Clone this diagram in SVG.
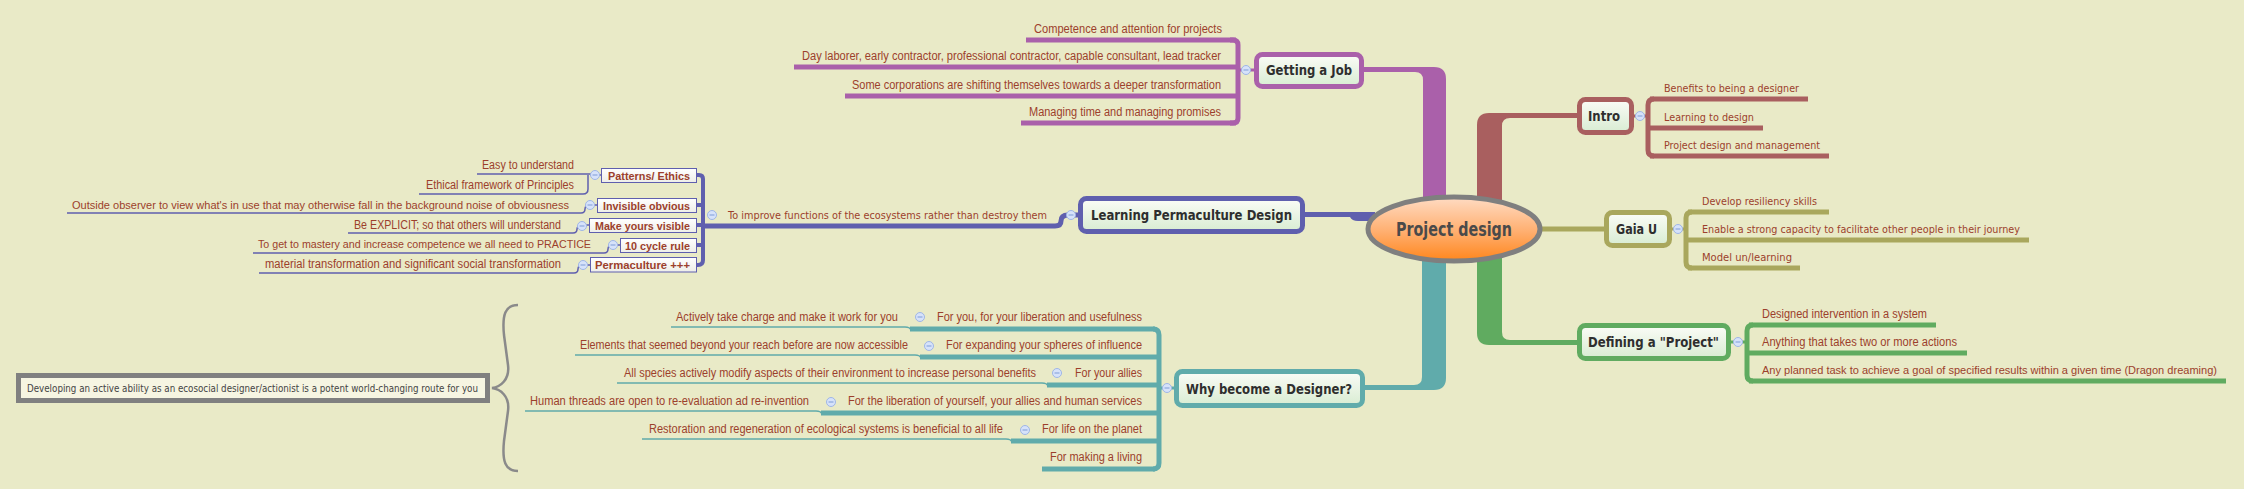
<svg xmlns="http://www.w3.org/2000/svg" width="2244" height="489" viewBox="0 0 2244 489">
<defs>
<linearGradient id="nodeFill" x1="0" y1="0" x2="0" y2="1"><stop offset="0" stop-color="#fbfcf7"/><stop offset="1" stop-color="#d8ecd2"/></linearGradient>
<linearGradient id="rootFill" x1="0" y1="0" x2="0" y2="1"><stop offset="0" stop-color="#ffdcc4"/><stop offset="0.55" stop-color="#ffae6e"/><stop offset="1" stop-color="#ff861c"/></linearGradient>
<linearGradient id="boxFill" x1="0" y1="0" x2="0" y2="1"><stop offset="0" stop-color="#ffffff"/><stop offset="1" stop-color="#eeeee8"/></linearGradient>
<style>
.t{font-family:"Liberation Sans",Arial,sans-serif;font-size:12px;fill:#9c3f2c}
.ts{font-family:"Liberation Sans",Arial,sans-serif;font-size:11px;fill:#9c3f2c}
.tr{font-family:"DejaVu Sans","Liberation Sans",sans-serif;font-size:11px;fill:#9c3f2c}
.title{font-family:"DejaVu Sans","Liberation Sans",sans-serif;font-size:14px;font-weight:bold;fill:#2e2e2e}
.bl{font-family:"Liberation Sans",Arial,sans-serif;font-size:11.5px;font-weight:bold;fill:#9c3f2c}
.note{font-family:"DejaVu Sans","Liberation Sans",sans-serif;font-size:10px;fill:#444}
.node{fill:url(#nodeFill);stroke-width:5}
.sbox{fill:url(#boxFill);stroke:#5f5fae;stroke-width:1}
.btn circle{fill:#d6e2fa;stroke:#9fb6e6;stroke-width:1}
.btn line{stroke:#7f9cd6;stroke-width:1}
.purple{stroke:#aa60aa;fill:none}
.brown{stroke:#a95f5f;fill:none}
.olive{stroke:#a9a75d;fill:none}
.green{stroke:#60ab60;fill:none}
.teal{stroke:#60abab;fill:none}
.blue{stroke:#5f5fae;fill:none}
.thick{stroke-width:5}
.thin{stroke-width:1.5}
</style>
</defs>
<rect width="2244" height="489" fill="#e9eac7"/>

<g id="connectors">
  <path d="M1364,67 L1434,67 Q1446,67 1446,79 L1446,215 L1423,215 L1423,80 Q1423,72 1415,72 L1364,72 Z" fill="#aa60aa"/>
  <path d="M1577,113 L1489,113 Q1477,113 1477,125 L1477,215 L1502,215 L1502,126 Q1502,118 1510,118 L1577,118 Z" fill="#a95f5f"/>
  <path d="M1477,245 L1477,333 Q1477,345 1489,345 L1577,345 L1577,340 L1510,340 Q1502,340 1502,332 L1502,245 Z" fill="#60ab60"/>
  <path d="M1446,245 L1446,378 Q1446,390 1434,390 L1364,390 L1364,385 L1414,385 Q1422,385 1422,377 L1422,245 Z" fill="#60abab"/>
  <line x1="1535" y1="229" x2="1604" y2="229" class="olive thick"/>
  <path d="M1300,212 L1375,212 L1375,221 L1358,221 Q1352,221 1350,217 L1300,217 Z" fill="#5f5fae"/>

  <g class="purple thick">
    <line x1="1026" y1="40" x2="1236" y2="40"/>
    <line x1="794" y1="67" x2="1238" y2="67"/>
    <line x1="845" y1="96" x2="1238" y2="96"/>
    <line x1="1021" y1="123" x2="1236" y2="123"/>
    <path d="M1230,40 L1233,40 Q1238,40 1238,45 L1238,118 Q1238,123 1233,123 L1230,123"/>
    <line x1="1238" y1="70" x2="1254" y2="70" stroke-width="3"/>
  </g>
  <g class="brown thick">
    <line x1="1650" y1="99" x2="1808" y2="99"/>
    <line x1="1648" y1="128" x2="1763" y2="128"/>
    <line x1="1650" y1="156" x2="1829" y2="156"/>
    <path d="M1654,99 Q1648,99 1648,105 L1648,150 Q1648,156 1654,156"/>
    <line x1="1634" y1="116" x2="1648" y2="116" stroke-width="3"/>
  </g>
  <g class="olive thick">
    <line x1="1688" y1="212" x2="1829" y2="212"/>
    <line x1="1686" y1="240" x2="2029" y2="240"/>
    <line x1="1688" y1="268" x2="1800" y2="268"/>
    <path d="M1692,212 Q1686,212 1686,218 L1686,262 Q1686,268 1692,268"/>
    <line x1="1672" y1="229" x2="1686" y2="229" stroke-width="3"/>
  </g>
  <g class="green thick">
    <line x1="1749" y1="325" x2="1936" y2="325"/>
    <line x1="1747" y1="353" x2="1967" y2="353"/>
    <line x1="1749" y1="381" x2="2226" y2="381"/>
    <path d="M1753,325 Q1747,325 1747,331 L1747,375 Q1747,381 1753,381"/>
    <line x1="1731" y1="342" x2="1747" y2="342" stroke-width="3"/>
  </g>
  <g class="teal thick">
    <line x1="910" y1="329" x2="1155" y2="329"/>
    <line x1="920" y1="357" x2="1159" y2="357"/>
    <line x1="1047" y1="385" x2="1159" y2="385"/>
    <line x1="821" y1="413" x2="1159" y2="413"/>
    <line x1="1011" y1="441" x2="1159" y2="441"/>
    <line x1="1042" y1="469" x2="1155" y2="469"/>
    <path d="M1153,329 Q1159,329 1159,335 L1159,463 Q1159,469 1153,469"/>
    <line x1="1159" y1="388" x2="1174" y2="388" stroke-width="3"/>
  </g>
  <g class="teal thin">
    <path d="M671,327 L905,327 Q910,327 911,330"/>
    <path d="M575,355 L915,355 Q920,355 921,358"/>
    <path d="M617,383 L1042,383 Q1047,383 1048,386"/>
    <path d="M525,411 L816,411 Q821,411 822,414"/>
    <path d="M642,439 L1006,439 Q1011,439 1012,442"/>
  </g>
  <g class="blue">
    <path d="M1078,215 L1068,215 Q1061,215 1061,221 Q1061,226 1055,226 L703,226" stroke-width="5"/>
    <path d="M697,175 L699,175 Q703,175 703,179 L703,260 Q703,265 698,265 L697,265" stroke-width="4"/>
    <line x1="697" y1="205" x2="703" y2="205" stroke-width="4"/>
    <line x1="697" y1="225" x2="703" y2="225" stroke-width="4"/>
    <line x1="697" y1="245" x2="703" y2="245" stroke-width="4"/>
  </g>
  <g class="blue thin">
    <path d="M477,174 L595,174"/>
    <path d="M419,194 L583,194 Q588,194 588,189 L588,175"/>
    <path d="M67,213 L581,213 Q585,213 585,209 Q585,205 590,205"/>
    <path d="M348,233 L573,233 Q577,233 577,229 Q577,226 582,226"/>
    <path d="M253,253 L604,253 Q608,253 608,249 Q608,245 613,245"/>
    <path d="M259,273 L574,273 Q578,273 578,269 Q578,265 583,265"/>
    <line x1="590" y1="175" x2="601" y2="175"/>
    <line x1="590" y1="205" x2="597" y2="205"/>
    <line x1="582" y1="225" x2="589" y2="225"/>
    <line x1="613" y1="245" x2="620" y2="245"/>
    <line x1="583" y1="265" x2="590" y2="265"/>
  </g>
  <path d="M518,305 C505,305 502,315 504,335 L508,365 C510,380 500,387 492,388 C500,389 510,396 508,411 L504,441 C502,461 505,471 518,471" fill="none" stroke="#8a8a8a" stroke-width="2.5"/>
</g>

<g id="root">
  <ellipse cx="1454" cy="229" rx="86" ry="32" fill="url(#rootFill)" stroke="#7f7f7f" stroke-width="5"/>
  <text x="1396" y="236" textLength="116" lengthAdjust="spacingAndGlyphs" style="font-family:'DejaVu Sans','Liberation Sans',sans-serif;font-size:19px;font-weight:bold;fill:#4a4a4a">Project design</text>
</g>

<g id="node-getting-job">
  <rect x="1256.5" y="54.5" width="105" height="32" rx="6" class="node" stroke="#aa60aa"/>
  <text x="1266" y="75" textLength="86" lengthAdjust="spacingAndGlyphs" class="title">Getting a Job</text>
  <g class="btn"><circle cx="1246" cy="70" r="4.5"/><line x1="1243.5" y1="70" x2="1248.5" y2="70"/></g>
  <text x="1034" y="33" textLength="188" lengthAdjust="spacingAndGlyphs" class="t">Competence and attention for projects</text>
  <text x="802" y="60" textLength="419" lengthAdjust="spacingAndGlyphs" class="t">Day laborer, early contractor, professional contractor, capable consultant, lead tracker</text>
  <text x="852" y="89" textLength="369" lengthAdjust="spacingAndGlyphs" class="t">Some corporations are shifting themselves towards a deeper transformation</text>
  <text x="1029" y="116" textLength="192" lengthAdjust="spacingAndGlyphs" class="t">Managing time and managing promises</text>
</g>

<g id="node-intro">
  <rect x="1579.5" y="99.5" width="52" height="33" rx="6" class="node" stroke="#a95f5f"/>
  <text x="1588" y="121" textLength="32" lengthAdjust="spacingAndGlyphs" class="title">Intro</text>
  <g class="btn"><circle cx="1640" cy="116" r="4.5"/><line x1="1637.5" y1="116" x2="1642.5" y2="116"/></g>
  <text x="1664" y="92" textLength="135" lengthAdjust="spacingAndGlyphs" class="tr">Benefits to being a designer</text>
  <text x="1664" y="121" textLength="90" lengthAdjust="spacingAndGlyphs" class="tr">Learning to design</text>
  <text x="1664" y="149" textLength="156" lengthAdjust="spacingAndGlyphs" class="tr">Project design and management</text>
</g>

<g id="node-gaia">
  <rect x="1606.5" y="212.5" width="63" height="33" rx="6" class="node" stroke="#a9a75d"/>
  <text x="1616" y="234" textLength="41" lengthAdjust="spacingAndGlyphs" class="title">Gaia U</text>
  <g class="btn"><circle cx="1678" cy="229" r="4.5"/><line x1="1675.5" y1="229" x2="1680.5" y2="229"/></g>
  <text x="1702" y="205" textLength="115" lengthAdjust="spacingAndGlyphs" class="tr">Develop resiliency skills</text>
  <text x="1702" y="233" textLength="318" lengthAdjust="spacingAndGlyphs" class="tr">Enable a strong capacity to facilitate other people in their journey</text>
  <text x="1702" y="261" textLength="90" lengthAdjust="spacingAndGlyphs" class="tr">Model un/learning</text>
</g>

<g id="node-defining">
  <rect x="1579.5" y="325.5" width="149" height="33" rx="6" class="node" stroke="#60ab60"/>
  <text x="1588" y="347" textLength="131" lengthAdjust="spacingAndGlyphs" class="title">Defining a "Project"</text>
  <g class="btn"><circle cx="1738" cy="342" r="4.5"/><line x1="1735.5" y1="342" x2="1740.5" y2="342"/></g>
  <text x="1762" y="318" textLength="165" lengthAdjust="spacingAndGlyphs" class="t">Designed intervention in a system</text>
  <text x="1762" y="346" textLength="195" lengthAdjust="spacingAndGlyphs" class="t">Anything that takes two or more actions</text>
  <text x="1762" y="374" textLength="455" lengthAdjust="spacingAndGlyphs" class="ts">Any planned task to achieve a goal of specified results within a given time (Dragon dreaming)</text>
</g>

<g id="node-why">
  <rect x="1176.5" y="371.5" width="186" height="34" rx="6" class="node" stroke="#60abab"/>
  <text x="1186" y="394" textLength="166" lengthAdjust="spacingAndGlyphs" class="title">Why become a Designer?</text>
  <g class="btn"><circle cx="1167" cy="388" r="4.5"/><line x1="1164.5" y1="388" x2="1169.5" y2="388"/></g>
  <text x="937" y="321" textLength="205" lengthAdjust="spacingAndGlyphs" class="t">For you, for your liberation and usefulness</text>
  <text x="946" y="349" textLength="196" lengthAdjust="spacingAndGlyphs" class="t">For expanding your spheres of influence</text>
  <text x="1075" y="377" textLength="67" lengthAdjust="spacingAndGlyphs" class="t">For your allies</text>
  <text x="848" y="405" textLength="294" lengthAdjust="spacingAndGlyphs" class="t">For the liberation of yourself, your allies and human services</text>
  <text x="1042" y="433" textLength="100" lengthAdjust="spacingAndGlyphs" class="t">For life on the planet</text>
  <text x="1050" y="461" textLength="92" lengthAdjust="spacingAndGlyphs" class="t">For making a living</text>
  <g class="btn">
    <circle cx="920" cy="317" r="4.5"/><line x1="917.5" y1="317" x2="922.5" y2="317"/>
    <circle cx="929" cy="346" r="4.5"/><line x1="926.5" y1="346" x2="931.5" y2="346"/>
    <circle cx="1057" cy="373" r="4.5"/><line x1="1054.5" y1="373" x2="1059.5" y2="373"/>
    <circle cx="831" cy="402" r="4.5"/><line x1="828.5" y1="402" x2="833.5" y2="402"/>
    <circle cx="1025" cy="430" r="4.5"/><line x1="1022.5" y1="430" x2="1027.5" y2="430"/>
  </g>
  <text x="676" y="321" textLength="222" lengthAdjust="spacingAndGlyphs" class="t">Actively take charge and make it work for you</text>
  <text x="580" y="349" textLength="328" lengthAdjust="spacingAndGlyphs" class="t">Elements that seemed beyond your reach before are now accessible</text>
  <text x="624" y="377" textLength="412" lengthAdjust="spacingAndGlyphs" class="t">All species actively modify aspects of their environment to increase personal benefits</text>
  <text x="530" y="405" textLength="279" lengthAdjust="spacingAndGlyphs" class="t">Human threads are open to re-evaluation ad re-invention</text>
  <text x="649" y="433" textLength="354" lengthAdjust="spacingAndGlyphs" class="t">Restoration and regeneration of ecological systems is beneficial to all life</text>
</g>

<g id="node-note">
  <rect x="18.5" y="375.5" width="469" height="25" fill="#f6f5e2" stroke="#808080" stroke-width="5"/>
  <text x="27" y="392" textLength="451" lengthAdjust="spacingAndGlyphs" class="note">Developing an active ability as an ecosocial designer/actionist is a potent world-changing route for you</text>
</g>

<g id="node-learning">
  <rect x="1080.5" y="198.5" width="222" height="33" rx="6" class="node" stroke="#5f5fae"/>
  <text x="1091" y="220" textLength="201" lengthAdjust="spacingAndGlyphs" class="title">Learning Permaculture Design</text>
  <g class="btn"><circle cx="1071" cy="215" r="4.5"/><line x1="1068.5" y1="215" x2="1073.5" y2="215"/></g>
  <text x="728" y="219" textLength="319" lengthAdjust="spacingAndGlyphs" class="tr">To improve functions of the ecosystems rather than destroy them</text>
  <g class="btn"><circle cx="712" cy="215" r="4.5"/><line x1="709.5" y1="215" x2="714.5" y2="215"/></g>
</g>

<g id="node-patterns">
  <rect x="601.5" y="168.5" width="95" height="14" class="sbox"/>
  <text x="608" y="179.5" textLength="82" lengthAdjust="spacingAndGlyphs" class="bl">Patterns/ Ethics</text>
  <g class="btn"><circle cx="595" cy="175" r="4.5"/><line x1="592.5" y1="175" x2="597.5" y2="175"/></g>
  <text x="482" y="169" textLength="92" lengthAdjust="spacingAndGlyphs" class="t">Easy to understand</text>
  <text x="426" y="189" textLength="148" lengthAdjust="spacingAndGlyphs" class="t">Ethical framework of Principles</text>
</g>
<g id="node-invisible">
  <rect x="597.5" y="198.5" width="99" height="14" class="sbox"/>
  <text x="603" y="209.5" textLength="87" lengthAdjust="spacingAndGlyphs" class="bl">Invisible obvious</text>
  <g class="btn"><circle cx="590" cy="205" r="4.5"/><line x1="587.5" y1="205" x2="592.5" y2="205"/></g>
  <text x="72" y="209" textLength="497" lengthAdjust="spacingAndGlyphs" class="ts">Outside observer to view what's in use that may otherwise fall in the background noise of obviousness</text>
</g>
<g id="node-make-visible">
  <rect x="589.5" y="218.5" width="107" height="14" class="sbox"/>
  <text x="595" y="229.5" textLength="95" lengthAdjust="spacingAndGlyphs" class="bl">Make yours visible</text>
  <g class="btn"><circle cx="582" cy="226" r="4.5"/><line x1="579.5" y1="226" x2="584.5" y2="226"/></g>
  <text x="354" y="229" textLength="207" lengthAdjust="spacingAndGlyphs" class="t">Be EXPLICIT; so that others will understand</text>
</g>
<g id="node-10cycle">
  <rect x="620.5" y="238.5" width="76" height="14" class="sbox"/>
  <text x="625" y="249.5" textLength="65" lengthAdjust="spacingAndGlyphs" class="bl">10 cycle rule</text>
  <g class="btn"><circle cx="613" cy="245" r="4.5"/><line x1="610.5" y1="245" x2="615.5" y2="245"/></g>
  <text x="258" y="248" textLength="333" lengthAdjust="spacingAndGlyphs" class="ts">To get to mastery and increase competence we all need to PRACTICE</text>
</g>
<g id="node-permaculture">
  <rect x="590.5" y="257.5" width="106" height="14.5" class="sbox"/>
  <text x="595" y="269" textLength="95" lengthAdjust="spacingAndGlyphs" class="bl">Permaculture +++</text>
  <g class="btn"><circle cx="583" cy="265" r="4.5"/><line x1="580.5" y1="265" x2="585.5" y2="265"/></g>
  <text x="265" y="268" textLength="296" lengthAdjust="spacingAndGlyphs" class="t">material transformation and significant social transformation</text>
</g>
</svg>
